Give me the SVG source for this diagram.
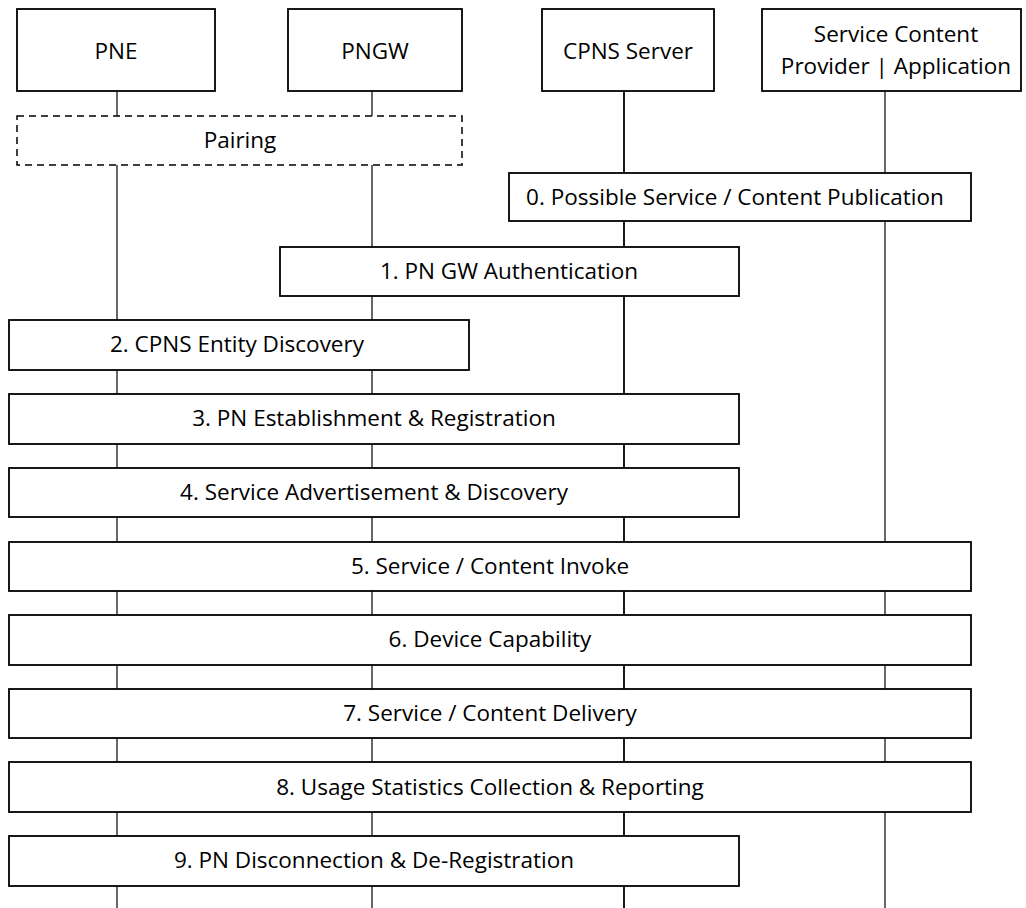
<svg xmlns="http://www.w3.org/2000/svg" width="1026" height="908" viewBox="0 0 1026 908">
<style>
.box{fill:#fff;stroke:#000;stroke-width:1.8}
.dash{fill:#fff;stroke:#000;stroke-width:1.5;stroke-dasharray:7,5}
.life{stroke:#000;stroke-width:1.2;fill:none}
.t{font-family:"Open Sans","Liberation Sans",sans-serif;font-size:22.5px;fill:#000;text-anchor:middle}
</style>
<rect width="1026" height="908" fill="#fff"/>
<g id="lifelines">
<line class="life" x1="117" y1="91" x2="117" y2="908"/>
<line class="life" x1="372" y1="91" x2="372" y2="908"/>
<line class="life" x1="624" y1="91" x2="624" y2="908" style="stroke-width:1.8"/>
<line class="life" x1="885" y1="91" x2="885" y2="908"/>
</g>
<g id="pne"><rect class="box" x="17" y="9" width="198" height="82"/><text class="t" x="116" y="59">PNE</text></g>
<g id="pngw"><rect class="box" x="288" y="9" width="174" height="82"/><text class="t" x="375" y="59">PNGW</text></g>
<g id="cpns"><rect class="box" x="542" y="9" width="172" height="82"/><text class="t" x="628" y="59">CPNS Server</text></g>
<g id="scp"><rect class="box" x="762" y="9" width="259" height="82"/><text class="t" x="896" y="42">Service Content</text><text class="t" x="896" y="74">Provider | Application</text></g>
<g id="pairing"><rect class="dash" x="17" y="116" width="445" height="49"/><text class="t" x="240" y="148">Pairing</text></g>
<g id="step0"><rect class="box" x="509" y="173" width="462" height="48"/><text class="t" x="735" y="205">0. Possible Service / Content Publication</text></g>
<g id="step1"><rect class="box" x="280" y="247" width="459" height="49"/><text class="t" x="509" y="279">1. PN GW Authentication</text></g>
<g id="step2"><rect class="box" x="9" y="320" width="460" height="50"/><text class="t" x="237" y="352">2. CPNS Entity Discovery</text></g>
<g id="step3"><rect class="box" x="9" y="394" width="730" height="50"/><text class="t" x="374" y="426">3. PN Establishment &amp; Registration</text></g>
<g id="step4"><rect class="box" x="9" y="468" width="730" height="49"/><text class="t" x="374" y="500">4. Service Advertisement &amp; Discovery</text></g>
<g id="step5"><rect class="box" x="9" y="542" width="962" height="49"/><text class="t" x="490" y="574">5. Service / Content Invoke</text></g>
<g id="step6"><rect class="box" x="9" y="615" width="962" height="50"/><text class="t" x="490" y="647">6. Device Capability</text></g>
<g id="step7"><rect class="box" x="9" y="689" width="962" height="49"/><text class="t" x="490" y="721">7. Service / Content Delivery</text></g>
<g id="step8"><rect class="box" x="9" y="762" width="962" height="50"/><text class="t" x="490" y="795">8. Usage Statistics Collection &amp; Reporting</text></g>
<g id="step9"><rect class="box" x="9" y="836" width="730" height="50"/><text class="t" x="374" y="868">9. PN Disconnection &amp; De-Registration</text></g>
</svg>
